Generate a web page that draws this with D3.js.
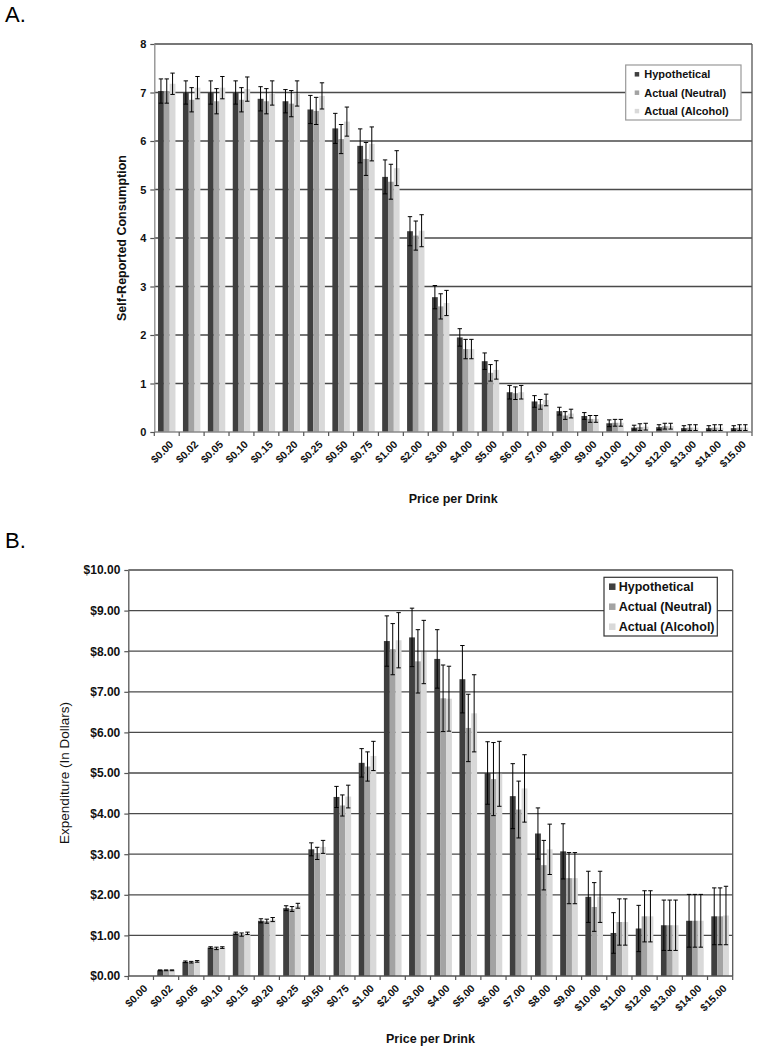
<!DOCTYPE html>
<html>
<head>
<meta charset="utf-8">
<script src="https://cdn.jsdelivr.net/npm/d3@7/dist/d3.min.js"></script>
<style>
  html, body { margin: 0; padding: 0; background: #fff; }
  svg { display: block; }
  text { font-family: "Liberation Sans", Arial, sans-serif; }
</style>
</head>
<body>
<svg id="chart" width="758" height="1050"></svg>
<script>
// ---------- DATA ----------
const categories = ["$0.00","$0.02","$0.05","$0.10","$0.15","$0.20","$0.25","$0.50","$0.75","$1.00","$2.00","$3.00","$4.00","$5.00","$6.00","$7.00","$8.00","$9.00","$10.00","$11.00","$12.00","$13.00","$14.00","$15.00"];
const seriesNames = ["Hypothetical", "Actual (Neutral)", "Actual (Alcohol)"];

// Panel A: self-reported consumption (mean, SE)
const hypA    = [7.03,7.00,7.00,7.00,6.87,6.82,6.65,6.26,5.90,5.26,4.14,2.78,1.95,1.46,0.82,0.63,0.43,0.33,0.18,0.09,0.10,0.08,0.08,0.08];
const hypAErr = [0.25,0.24,0.24,0.24,0.25,0.24,0.29,0.31,0.35,0.35,0.30,0.24,0.18,0.17,0.14,0.12,0.08,0.07,0.07,0.05,0.05,0.05,0.05,0.05];
const neuA    = [7.03,6.85,6.82,6.85,6.82,6.77,6.62,6.04,5.63,5.16,4.05,2.59,1.71,1.22,0.80,0.57,0.34,0.27,0.19,0.10,0.12,0.09,0.09,0.09];
const neuAErr = [0.25,0.25,0.26,0.25,0.26,0.27,0.28,0.30,0.34,0.36,0.30,0.26,0.20,0.17,0.13,0.10,0.08,0.07,0.07,0.07,0.06,0.06,0.06,0.06];
const alcA    = [7.18,7.10,7.10,7.07,6.99,6.98,6.93,6.40,5.94,5.44,4.15,2.66,1.71,1.28,0.82,0.66,0.38,0.27,0.19,0.11,0.12,0.09,0.09,0.09];
const alcAErr = [0.22,0.23,0.23,0.25,0.25,0.26,0.27,0.30,0.35,0.36,0.33,0.26,0.20,0.19,0.14,0.12,0.09,0.07,0.07,0.07,0.06,0.06,0.06,0.06];
const yTicksA = [0,1,2,3,4,5,6,7,8];

// Panel B: expenditure in dollars (mean, SE)
const hypB    = [0,0.14,0.35,0.70,1.05,1.36,1.67,3.12,4.41,5.25,8.25,8.34,7.81,7.31,5.00,4.43,3.51,3.07,1.95,1.06,1.17,1.25,1.36,1.47];
const hypBErr = [0,0.01,0.02,0.02,0.03,0.05,0.06,0.16,0.26,0.35,0.62,0.72,0.72,0.83,0.77,0.80,0.63,0.68,0.63,0.50,0.57,0.62,0.65,0.70];
const neuB    = [0,0.14,0.34,0.68,1.02,1.35,1.65,3.02,4.20,5.16,8.05,7.75,6.84,6.11,4.85,4.10,2.73,2.41,1.70,1.33,1.47,1.25,1.36,1.47];
const neuBErr = [0,0.01,0.02,0.03,0.04,0.05,0.06,0.15,0.26,0.36,0.63,0.78,0.82,0.83,0.90,0.70,0.61,0.63,0.60,0.57,0.63,0.62,0.65,0.70];
const alcB    = [0,0.14,0.36,0.70,1.05,1.39,1.73,3.18,4.42,5.42,8.27,7.98,6.83,6.47,4.98,4.62,3.12,2.41,1.95,1.33,1.47,1.25,1.36,1.49];
const alcBErr = [0,0.01,0.02,0.02,0.03,0.05,0.06,0.16,0.28,0.36,0.68,0.78,0.80,0.95,0.80,0.83,0.62,0.63,0.63,0.57,0.63,0.62,0.65,0.72];
const yTicksB = [0,1,2,3,4,5,6,7,8,9,10];

const colors = ["#3f3f3f", "#a3a3a3", "#d9d9d9"];

// ---------- DRAW ----------
const svg = d3.select("#chart");

function panel(opts) {
  const { left, right, top, bottom, vals, errs, yMax, yTicks, yFmt, yTitle, yTitleX, yTitleBold,
          tickFont, xFont, xTitleY, xTitleFont, legend, labelY, label, axisColor, frameColor } = opts;
  const g = svg.append("g");

  const x0 = d3.scaleBand().domain(categories).range([left, right]).paddingInner(0).paddingOuter(0);
  const x1 = d3.scaleBand().domain(seriesNames).range([0, x0.bandwidth()]).paddingInner(0).paddingOuter(0.643);
  const y = d3.scaleLinear().domain([0, yMax]).range([bottom, top]);

  // gridlines
  g.append("g").selectAll("line").data(yTicks.filter(t => t > 0)).join("line")
    .attr("x1", left).attr("x2", right)
    .attr("y1", d => y(d)).attr("y2", d => y(d))
    .attr("stroke", "#4a4a4a").attr("stroke-width", 1.3);

  // frame right
  g.append("line").attr("x1", right).attr("x2", right).attr("y1", top).attr("y2", bottom)
    .attr("stroke", frameColor).attr("stroke-width", 1.3);

  // bars
  const data = categories.map((c, i) => ({ c, i }));
  const groups = g.append("g").selectAll("g").data(data).join("g")
    .attr("transform", d => `translate(${x0(d.c)},0)`);
  seriesNames.forEach((s, si) => {
    groups.append("rect")
      .attr("x", x1(s)).attr("width", x1.bandwidth())
      .attr("y", d => y(vals[si][d.i]))
      .attr("height", d => y(0) - y(vals[si][d.i]))
      .attr("fill", colors[si]);
  });
  // error bars
  seriesNames.forEach((s, si) => {
    const eg = groups.filter(d => errs[si][d.i] > 0).append("g")
      .attr("stroke", "#000").attr("stroke-width", 1);
    const cx = x1(s) + x1.bandwidth() / 2;
    eg.append("line").attr("x1", cx).attr("x2", cx)
      .attr("y1", d => y(vals[si][d.i] + errs[si][d.i]))
      .attr("y2", d => y(Math.max(0, vals[si][d.i] - errs[si][d.i])));
    eg.append("line").attr("x1", cx - 2.2).attr("x2", cx + 2.2)
      .attr("y1", d => y(vals[si][d.i] + errs[si][d.i]))
      .attr("y2", d => y(vals[si][d.i] + errs[si][d.i]));
    eg.append("line").attr("x1", cx - 2.2).attr("x2", cx + 2.2)
      .attr("y1", d => y(Math.max(0, vals[si][d.i] - errs[si][d.i])))
      .attr("y2", d => y(Math.max(0, vals[si][d.i] - errs[si][d.i])));
  });

  // y axis
  const yAxis = d3.axisLeft(y).tickValues(yTicks).tickFormat(yFmt).tickSizeInner(4).tickSizeOuter(0).tickPadding(4);
  const ya = g.append("g").attr("transform", `translate(${left},0)`).call(yAxis);
  ya.select(".domain").attr("stroke", axisColor).attr("stroke-width", 1.3);
  ya.selectAll(".tick line").attr("stroke", "#555").attr("stroke-width", 1.2);
  ya.selectAll(".tick text").attr("font-size", tickFont).attr("font-weight", "bold")
    .attr("fill", "#111").attr("font-family", "'Liberation Sans', Arial, sans-serif");

  // x axis with ticks at category boundaries
  g.append("line").attr("x1", left).attr("x2", right).attr("y1", bottom).attr("y2", bottom)
    .attr("stroke", axisColor).attr("stroke-width", 1.3);
  const bounds = categories.map(c => x0(c)).concat([right]);
  g.append("g").selectAll("line").data(bounds).join("line")
    .attr("x1", d => d).attr("x2", d => d).attr("y1", bottom).attr("y2", bottom + 4)
    .attr("stroke", "#555").attr("stroke-width", 1.2);
  g.append("g").selectAll("text").data(categories).join("text")
    .attr("transform", d => `translate(${x0(d) + x0.bandwidth() / 2 + 2},${bottom + 8}) rotate(-45)`)
    .attr("text-anchor", "end").attr("dy", "0.7em")
    .attr("font-size", xFont).attr("font-weight", "bold").attr("fill", "#111")
    .text(d => d);

  // titles
  g.append("text").attr("x", (left + right) / 2).attr("y", xTitleY)
    .attr("text-anchor", "middle").attr("font-size", xTitleFont).attr("font-weight", "bold").attr("fill", "#111")
    .text("Price per Drink");
  g.append("text").attr("transform", `translate(${yTitleX},${(top + bottom) / 2}) rotate(-90)`)
    .attr("text-anchor", "middle").attr("font-size", opts.yTitleFont)
    .attr("font-weight", yTitleBold ? "bold" : "normal").attr("fill", "#111")
    .text(yTitle);

  // panel label
  svg.append("text").attr("x", 5).attr("y", labelY)
    .attr("font-family", "'Liberation Serif', 'Times New Roman', serif").attr("font-size", 22).attr("fill", "#000")
    .text(label);

  // legend
  const lg = g.append("g");
  lg.append("rect").attr("x", legend.x).attr("y", legend.y).attr("width", legend.w).attr("height", legend.h)
    .attr("fill", "#fff").attr("stroke", legend.stroke).attr("stroke-width", 1.2);
  seriesNames.forEach((s, si) => {
    const cy = legend.y + legend.first + si * legend.step;
    lg.append("rect").attr("x", legend.x + legend.sqX).attr("y", cy - legend.sq / 2)
      .attr("width", legend.sq).attr("height", legend.sq).attr("fill", colors[si]);
    lg.append("text").attr("x", legend.x + legend.textX).attr("y", cy).attr("dy", "0.36em")
      .attr("font-size", legend.font).attr("font-weight", "bold").attr("fill", "#111").text(s);
  });
}

panel({
  left: 154.3, right: 752, top: 44, bottom: 432,
  vals: [hypA, neuA, alcA], errs: [hypAErr, neuAErr, alcAErr],
  yMax: 8, yTicks: yTicksA, yFmt: d3.format("d"),
  yTitle: "Self-Reported Consumption", yTitleX: 126, yTitleBold: true, yTitleFont: 12.5,
  tickFont: 11, xFont: 10.5, xTitleY: 503, xTitleFont: 12.5,
  axisColor: "#8a8a8a", frameColor: "#555",
  label: "A.", labelY: 22,
  legend: { x: 625.7, y: 65, w: 115.3, h: 55, stroke: "#999", first: 9.3, step: 18.4, sq: 4.5, sqX: 9, textX: 18.6, font: 11 }
});

panel({
  left: 128.3, right: 732.7, top: 570, bottom: 976,
  vals: [hypB, neuB, alcB], errs: [hypBErr, neuBErr, alcBErr],
  yMax: 10, yTicks: yTicksB, yFmt: d => "$" + d3.format(".2f")(d),
  yTitle: "Expenditure (In Dollars)", yTitleX: 69, yTitleBold: false, yTitleFont: 13.5,
  tickFont: 12, xFont: 10.5, xTitleY: 1043, xTitleFont: 12.5,
  axisColor: "#555", frameColor: "#555",
  label: "B.", labelY: 548,
  legend: { x: 604, y: 577.3, w: 113.3, h: 58.7, stroke: "#333", first: 9.4, step: 20, sq: 6.5, sqX: 5, textX: 14.7, font: 12.5 }
});
</script>
</body>
</html>
